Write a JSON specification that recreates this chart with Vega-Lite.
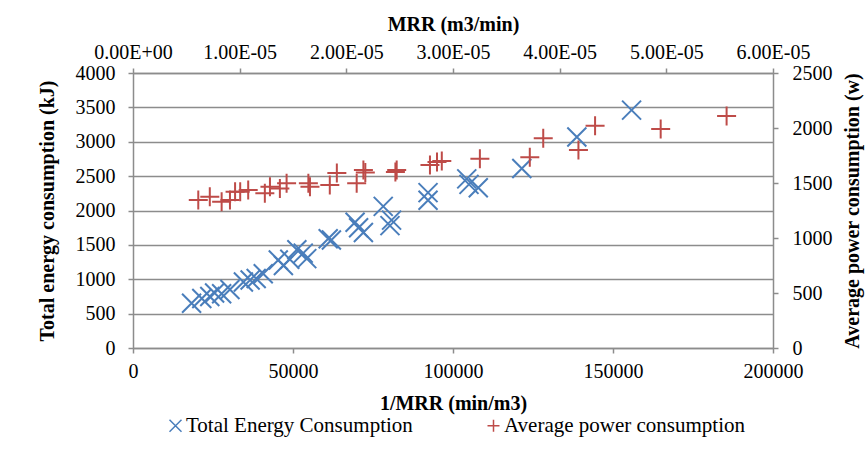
{
  "$schema": "https://vega.github.io/schema/vega-lite/v6.json",
  "width": 640,
  "height": 275,
  "autosize": {"type": "none"},
  "padding": {"left": 133, "top": 73, "right": 95, "bottom": 109},
  "background": "white",
  "config": {
    "view": {"stroke": null},
    "font": "Liberation Serif",
    "axis": {
      "labelFont": "Liberation Serif",
      "labelFontSize": 20,
      "labelColor": "black",
      "titleFont": "Liberation Serif",
      "titleFontSize": 20,
      "titleFontWeight": "bold",
      "titleColor": "black",
      "domainColor": "#8c8c8c",
      "domainWidth": 1.5,
      "tickColor": "#8c8c8c",
      "tickWidth": 1.5,
      "tickSize": 5,
      "gridColor": "#8c8c8c",
      "gridWidth": 1.5
    },
    "legend": {"labelFont": "Liberation Serif"}
  },
  "datasets": {
    "points": [
      {"series": "Total Energy Consumption", "inv_mrr": 18300, "value": 650},
      {"series": "Total Energy Consumption", "inv_mrr": 21500, "value": 720},
      {"series": "Total Energy Consumption", "inv_mrr": 24000, "value": 750},
      {"series": "Total Energy Consumption", "inv_mrr": 25500, "value": 800},
      {"series": "Total Energy Consumption", "inv_mrr": 27700, "value": 790},
      {"series": "Total Energy Consumption", "inv_mrr": 30300, "value": 850},
      {"series": "Total Energy Consumption", "inv_mrr": 34500, "value": 960},
      {"series": "Total Energy Consumption", "inv_mrr": 36600, "value": 990},
      {"series": "Total Energy Consumption", "inv_mrr": 38500, "value": 1010},
      {"series": "Total Energy Consumption", "inv_mrr": 40700, "value": 1080},
      {"series": "Total Energy Consumption", "inv_mrr": 45400, "value": 1280},
      {"series": "Total Energy Consumption", "inv_mrr": 47000, "value": 1200},
      {"series": "Total Energy Consumption", "inv_mrr": 49000, "value": 1290},
      {"series": "Total Energy Consumption", "inv_mrr": 51200, "value": 1430},
      {"series": "Total Energy Consumption", "inv_mrr": 53200, "value": 1380},
      {"series": "Total Energy Consumption", "inv_mrr": 54300, "value": 1300},
      {"series": "Total Energy Consumption", "inv_mrr": 61000, "value": 1590},
      {"series": "Total Energy Consumption", "inv_mrr": 62000, "value": 1570},
      {"series": "Total Energy Consumption", "inv_mrr": 69400, "value": 1830},
      {"series": "Total Energy Consumption", "inv_mrr": 70500, "value": 1750},
      {"series": "Total Energy Consumption", "inv_mrr": 72000, "value": 1680},
      {"series": "Total Energy Consumption", "inv_mrr": 78200, "value": 2060},
      {"series": "Total Energy Consumption", "inv_mrr": 80800, "value": 1860},
      {"series": "Total Energy Consumption", "inv_mrr": 80300, "value": 1780},
      {"series": "Total Energy Consumption", "inv_mrr": 92200, "value": 2260},
      {"series": "Total Energy Consumption", "inv_mrr": 92200, "value": 2150},
      {"series": "Total Energy Consumption", "inv_mrr": 104300, "value": 2460},
      {"series": "Total Energy Consumption", "inv_mrr": 105000, "value": 2380},
      {"series": "Total Energy Consumption", "inv_mrr": 107900, "value": 2330},
      {"series": "Total Energy Consumption", "inv_mrr": 121500, "value": 2610},
      {"series": "Total Energy Consumption", "inv_mrr": 138700, "value": 3070},
      {"series": "Total Energy Consumption", "inv_mrr": 155800, "value": 3460},
      {"series": "Average power consumption", "inv_mrr": 20400, "value": 1345},
      {"series": "Average power consumption", "inv_mrr": 24000, "value": 1375},
      {"series": "Average power consumption", "inv_mrr": 27700, "value": 1330},
      {"series": "Average power consumption", "inv_mrr": 30300, "value": 1345},
      {"series": "Average power consumption", "inv_mrr": 31900, "value": 1420},
      {"series": "Average power consumption", "inv_mrr": 33500, "value": 1420},
      {"series": "Average power consumption", "inv_mrr": 36000, "value": 1436},
      {"series": "Average power consumption", "inv_mrr": 41200, "value": 1406},
      {"series": "Average power consumption", "inv_mrr": 42800, "value": 1466},
      {"series": "Average power consumption", "inv_mrr": 45900, "value": 1450},
      {"series": "Average power consumption", "inv_mrr": 48000, "value": 1497},
      {"series": "Average power consumption", "inv_mrr": 54800, "value": 1497},
      {"series": "Average power consumption", "inv_mrr": 55300, "value": 1466},
      {"series": "Average power consumption", "inv_mrr": 61500, "value": 1482},
      {"series": "Average power consumption", "inv_mrr": 63700, "value": 1590},
      {"series": "Average power consumption", "inv_mrr": 69900, "value": 1497},
      {"series": "Average power consumption", "inv_mrr": 72000, "value": 1618},
      {"series": "Average power consumption", "inv_mrr": 72600, "value": 1595},
      {"series": "Average power consumption", "inv_mrr": 82400, "value": 1618},
      {"series": "Average power consumption", "inv_mrr": 82000, "value": 1600},
      {"series": "Average power consumption", "inv_mrr": 92800, "value": 1663},
      {"series": "Average power consumption", "inv_mrr": 95000, "value": 1690},
      {"series": "Average power consumption", "inv_mrr": 96500, "value": 1700},
      {"series": "Average power consumption", "inv_mrr": 108400, "value": 1720},
      {"series": "Average power consumption", "inv_mrr": 124000, "value": 1733},
      {"series": "Average power consumption", "inv_mrr": 128200, "value": 1906},
      {"series": "Average power consumption", "inv_mrr": 139200, "value": 1800},
      {"series": "Average power consumption", "inv_mrr": 144400, "value": 2021},
      {"series": "Average power consumption", "inv_mrr": 164900, "value": 1991},
      {"series": "Average power consumption", "inv_mrr": 185500, "value": 2109}
    ],
    "mrr_range": [{"mrr": 0}, {"mrr": 0.00006}]
  },
  "layer": [
    {
      "data": {"name": "points"},
      "transform": [{"filter": "datum.series === 'Total Energy Consumption'"}],
      "mark": {"type": "point", "filled": false, "size": 361, "strokeWidth": 2, "opacity": 1},
      "encoding": {
        "x": {
          "field": "inv_mrr", "type": "quantitative",
          "scale": {"domain": [0, 200000], "nice": false, "zero": false},
          "axis": {
            "orient": "bottom", "title": "1/MRR (min/m3)", "values": [0, 50000, 100000, 150000, 200000],
            "format": "d", "grid": false, "labelPadding": 8, "titlePadding": 12, "labelFlush": false
          }
        },
        "y": {
          "field": "value", "type": "quantitative",
          "scale": {"domain": [0, 4000], "nice": false},
          "axis": {
            "orient": "left", "title": "Total energy consumption (kJ)",
            "values": [0, 500, 1000, 1500, 2000, 2500, 3000, 3500, 4000],
            "format": "d", "grid": true, "labelPadding": 13, "titlePadding": 18
          }
        },
        "color": {
          "field": "series", "type": "nominal",
          "scale": {"domain": ["Total Energy Consumption", "Average power consumption"], "range": ["#4a7ebb", "#be4b48"]},
          "legend": {
            "title": null, "orient": "none", "legendX": 32, "legendY": 342, "direction": "horizontal",
            "columnPadding": 70, "labelFontSize": 21, "labelColor": "black",
            "labelLimit": 400, "symbolSize": 144, "symbolStrokeWidth": 1.5, "labelOffset": 0
          }
        },
        "shape": {
          "field": "series", "type": "nominal",
          "scale": {"domain": ["Total Energy Consumption", "Average power consumption"], "range": ["M-1,-1L1,1M1,-1L-1,1", "M-1,0L1,0M0,-1L0,1"]},
          "legend": null
        }
      }
    },
    {
      "data": {"name": "points"},
      "transform": [{"filter": "datum.series === 'Average power consumption'"}],
      "mark": {"type": "point", "filled": false, "size": 361, "strokeWidth": 2, "opacity": 1},
      "encoding": {
        "x": {
          "field": "inv_mrr", "type": "quantitative",
          "scale": {"domain": [0, 200000], "nice": false, "zero": false},
          "axis": null
        },
        "y": {
          "field": "value", "type": "quantitative",
          "scale": {"domain": [0, 2500], "nice": false},
          "axis": {
            "orient": "right", "title": "Average power consumption (w)", "titleAngle": -90, "titleBaseline": "top",
            "values": [0, 500, 1000, 1500, 2000, 2500],
            "format": "d", "grid": false, "labelPadding": 14, "titlePadding": 10
          }
        },
        "color": {"field": "series", "type": "nominal"},
        "shape": {"field": "series", "type": "nominal"}
      }
    },
    {
      "data": {"name": "mrr_range"},
      "mark": {"type": "point", "opacity": 0},
      "encoding": {
        "x": {
          "field": "mrr", "type": "quantitative",
          "scale": {"domain": [0, 0.00006], "nice": false, "zero": false},
          "axis": {
            "orient": "top", "title": "MRR (m3/min)",
            "values": [0, 0.00001, 0.00002, 0.00003, 0.00004, 0.00005, 0.00006],
            "labelExpr": "replace(replace(format(datum.value, '.2e'), 'e-', 'E-0'), 'e+', 'E+0')",
            "grid": false, "labelPadding": 6, "titlePadding": 8, "labelFlush": false
          }
        }
      }
    }
  ],
  "resolve": {
    "scale": {"x": "independent", "y": "independent"},
    "axis": {"x": "independent", "y": "independent"}
  }
}
